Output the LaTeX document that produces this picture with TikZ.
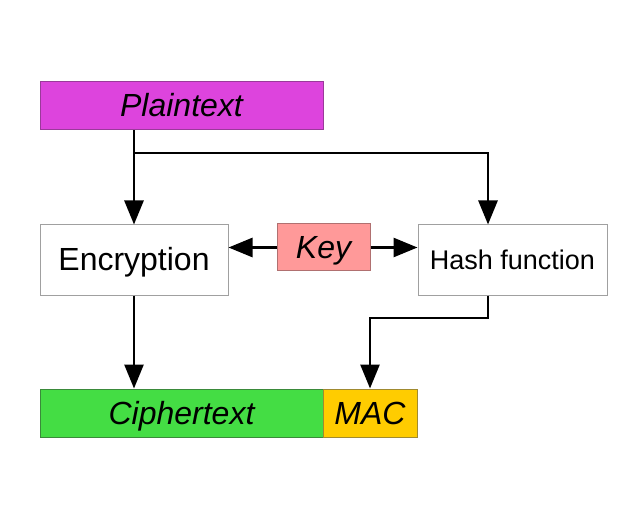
\documentclass[tikz,border=0pt]{standalone}
\usepackage{fontspec}
\setmainfont{Liberation Sans}
\usetikzlibrary{arrows.meta}
\definecolor{plainc}{HTML}{DD44DD}
\definecolor{plainb}{HTML}{9A3A9A}
\definecolor{keyc}{HTML}{FF9999}
\definecolor{keyb}{HTML}{B07070}
\definecolor{cipc}{HTML}{44DD44}
\definecolor{cipb}{HTML}{3A8A3A}
\definecolor{macc}{HTML}{FFCC00}
\definecolor{macb}{HTML}{A08A30}
\definecolor{boxb}{HTML}{A0A0A0}
\tikzset{
  box/.style={rectangle, draw, line width=1pt, inner sep=0pt, text height=23pt, text depth=1pt, font=\fontsize{32}{36}\selectfont},
  conn/.style={line width=2.7pt, -{Triangle[length=24pt,width=19pt]}},
}
\begin{document}
\begin{tikzpicture}[x=1pt,y=-1pt]
\useasboundingbox (0,0) rectangle (639,526);
\node[box, fill=plainc, draw=plainb, minimum width=283pt, minimum height=48pt, font=\fontsize{32}{36}\selectfont\itshape] (plain) at (181.5,106) {Plaintext};
\node[box, fill=white, draw=boxb, minimum width=188pt, minimum height=70pt] (enc) at (134,260) {Encryption};
\node[box, fill=keyc, draw=keyb, minimum width=93pt, minimum height=47pt, font=\fontsize{32}{36}\selectfont\itshape] (key) at (323.5,247.5) {Key};
\node[box, fill=white, draw=boxb, minimum width=189pt, minimum height=70pt, text height=20pt, font=\fontsize{27}{30}\selectfont] (hash) at (512.5,260) {Hash function};
\node[box, fill=cipc, draw=cipb, minimum width=283pt, minimum height=48pt, font=\fontsize{32}{36}\selectfont\itshape] (cip) at (181.5,413) {Ciphertext};
\node[box, fill=macc, draw=macb, minimum width=94pt, minimum height=48pt, font=\fontsize{32}{36}\selectfont\itshape] (mac) at (370,413) {MAC};
\coordinate (br) at (134,153);
\coordinate (hin) at (488,153);
\coordinate (hturn) at (488,318);
\coordinate (mturn) at (370,318);
\draw[conn] (enc.north |- plain.south) -- (enc.north);
\draw[conn] (br) -- (hin) -- (hin |- hash.north);
\draw[conn] (key.west) -- (key.west -| enc.east);
\draw[conn] (key.east) -- (key.east -| hash.west);
\draw[conn] (enc.south) -- (enc.south |- cip.north);
\draw[conn] (hturn |- hash.south) -- (hturn) -- (mturn) -- (mac.north);
\end{tikzpicture}
\end{document}
